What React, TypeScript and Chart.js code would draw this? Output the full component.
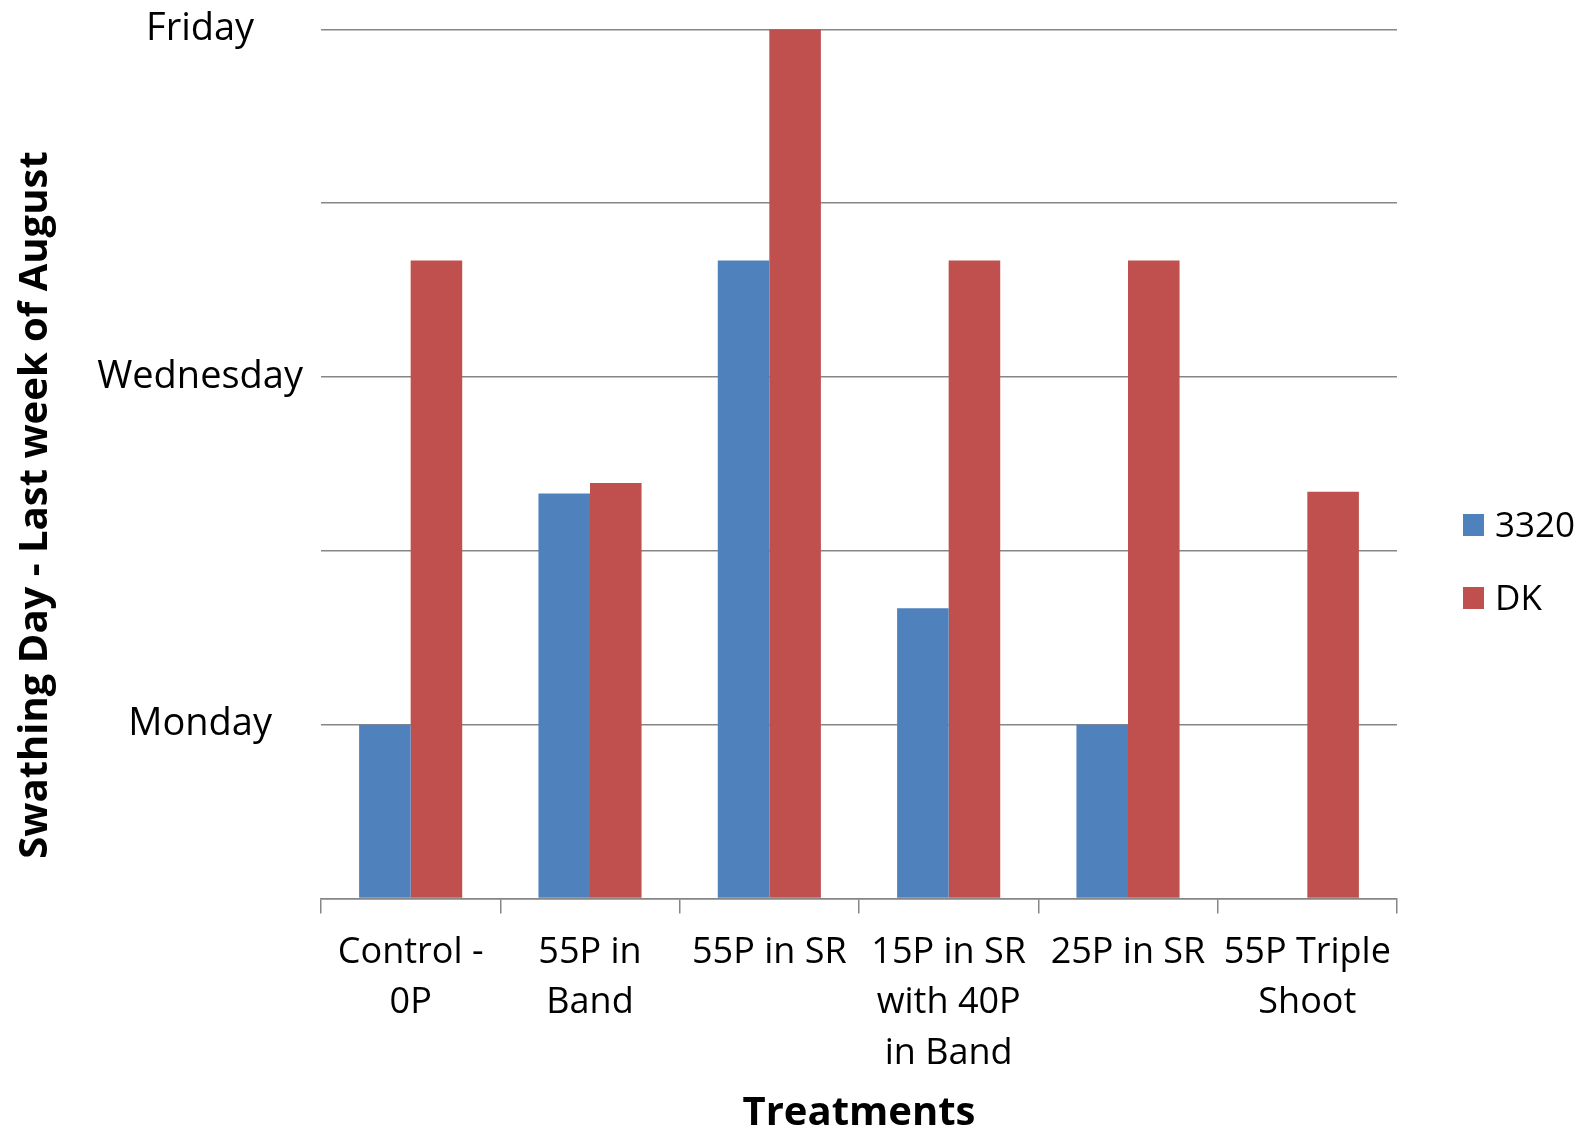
import React, { useEffect, useRef } from "react";
import { Chart, registerables } from "chart.js";

Chart.register(...registerables);

// Treatments along the x axis (multi-line labels)
const treatments: string[][] = [
  ["Control -", "0P"],
  ["55P in", "Band"],
  ["55P in SR"],
  ["15P in SR", "with 40P", "in Band"],
  ["25P in SR"],
  ["55P Triple", "Shoot"],
];

// Swathing day, counted in days of the last week of August (1 = Monday, 5 = Friday)
const series3320: (number | null)[] = [1, 2.33, 3.67, 1.67, 1, null];
const seriesDK: number[] = [3.67, 2.39, 5, 3.67, 3.67, 2.34];

// Labels for the y ticks (0..5)
const dayTicks: string[] = ["", "Monday", "", "Wednesday", "", "Friday"];

const seriesNames: string[] = ["3320", "DK"];
const seriesColors: string[] = ["#4F81BD", "#C0504D"];

const FONT = "'Open Sans', 'Noto Sans', sans-serif";
const GRID = "#868686";

// Axis titles and the legend drawn on top of the chart
const overlayPlugin = {
  id: "overlay",
  afterDraw(chart: any) {
    const { ctx, chartArea } = chart;
    ctx.save();
    ctx.fillStyle = "#000";

    // y axis title, rotated
    ctx.font = `bold 40px ${FONT}`;
    ctx.textAlign = "center";
    ctx.textBaseline = "alphabetic";
    ctx.save();
    ctx.translate(47, 505);
    ctx.rotate(-Math.PI / 2);
    ctx.fillText("Swathing Day - Last week of August", 0, 0);
    ctx.restore();

    // x axis title
    ctx.fillText("Treatments", (chartArea.left + chartArea.right) / 2, 1125);

    // legend
    ctx.font = `35px ${FONT}`;
    ctx.textAlign = "left";
    const rows = [537, 610];
    chart.data.datasets.forEach((ds: any, i: number) => {
      const base = rows[i];
      ctx.fillStyle = ds.backgroundColor;
      ctx.fillRect(1463, base - 23, 21, 22);
      ctx.fillStyle = "#000";
      ctx.fillText(ds.label, 1495, base);
    });
    ctx.restore();
  },
};

export default function App() {
  const canvasRef = useRef<HTMLCanvasElement | null>(null);

  useEffect(() => {
    if (!canvasRef.current) return;
    Chart.defaults.font.family = FONT;
    Chart.defaults.color = "#000";

    const chart = new Chart(canvasRef.current, {
      type: "bar",
      data: {
        labels: treatments,
        datasets: [
          {
            label: seriesNames[0],
            data: series3320,
            backgroundColor: seriesColors[0],
            categoryPercentage: 0.575,
            barPercentage: 1,
          },
          {
            label: seriesNames[1],
            data: seriesDK,
            backgroundColor: seriesColors[1],
            categoryPercentage: 0.575,
            barPercentage: 1,
          },
        ],
      },
      options: {
        responsive: false,
        animation: false,
        layout: { padding: { top: 29.3, right: 186, left: 0, bottom: 0 } },
        plugins: {
          legend: { display: false },
          tooltip: { enabled: false },
          title: { display: false },
        },
        scales: {
          x: {
            type: "category",
            offset: true,
            grid: {
              offset: true,
              drawOnChartArea: false,
              drawTicks: true,
              tickLength: 15,
              color: GRID,
              lineWidth: 1.5,
            },
            border: { display: true, color: GRID, width: 1.5 },
            ticks: {
              font: { size: 36, lineHeight: 1.4 },
              color: "#000",
              padding: 14,
              maxRotation: 0,
              minRotation: 0,
              autoSkip: false,
            },
            afterFit(scale: any) {
              scale.height = 232.5;
              scale.paddingLeft = 0;
              scale.paddingRight = 0;
            },
          },
          y: {
            min: 0,
            max: 5,
            grid: { color: GRID, lineWidth: 1.5, drawTicks: false },
            border: { display: false },
            ticks: {
              stepSize: 1,
              font: { size: 38 },
              color: "#000",
              padding: 18,
              crossAlign: "center",
              callback: (v: any) => dayTicks[Number(v)] ?? "",
            },
            afterFit(scale: any) {
              scale.width = 321;
              scale.paddingTop = 0;
              scale.paddingBottom = 0;
            },
          },
        },
      },
      plugins: [overlayPlugin],
    });

    return () => chart.destroy();
  }, []);

  return (
    <div style={{ position: "fixed", left: 0, top: 0, width: 1583, height: 1131, background: "#fff" }}>
      <canvas ref={canvasRef} width={1583} height={1131} style={{ display: "block" }} />
    </div>
  );
}
